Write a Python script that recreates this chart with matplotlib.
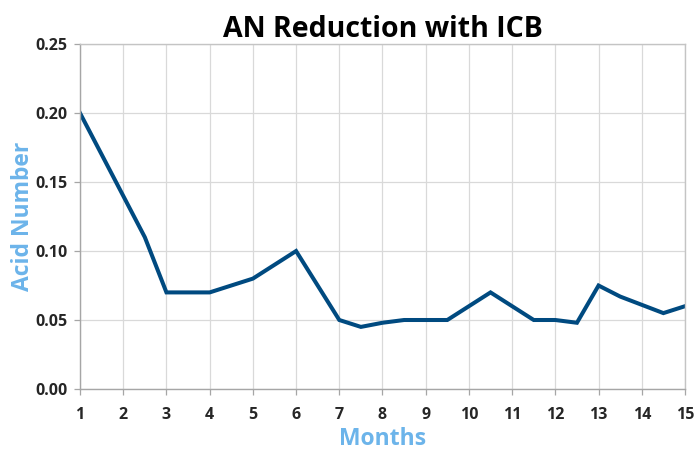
import matplotlib.pyplot as plt

plt.rcParams['font.family'] = ['Open Sans', 'DejaVu Sans']

months = [1, 1.5, 2, 2.5, 3, 3.5, 4, 4.5, 5, 5.5, 6, 6.5, 7, 7.5, 8,
          8.5, 9, 9.5, 10, 10.5, 11, 11.5, 12, 12.5, 13, 13.5, 14, 14.5, 15]
acid_number = [0.20, 0.17, 0.14, 0.11, 0.07, 0.07, 0.07, 0.075, 0.08, 0.09, 0.10,
               0.075, 0.05, 0.045, 0.048, 0.05, 0.05, 0.05, 0.06, 0.07, 0.06,
               0.05, 0.05, 0.048, 0.075, 0.067, 0.061, 0.055, 0.06]
x_ticks = list(range(1, 16))
y_ticks = [0.00, 0.05, 0.10, 0.15, 0.20, 0.25]

fig = plt.figure(figsize=(6.94, 4.5), dpi=100)
ax = fig.add_axes([0.1153, 0.1356, 0.8717, 0.7664])

ax.plot(months, acid_number, color="#004a80", linewidth=2.9, solid_joinstyle="miter")

ax.set_xlim(1, 15)
ax.set_ylim(0, 0.25)
ax.set_xticks(x_ticks)
ax.set_yticks(y_ticks)
ax.set_yticklabels([f"{v:.2f}" for v in y_ticks])
ax.grid(True, color="#d9d9d9", linewidth=0.9)
ax.set_axisbelow(True)

for s in ["top", "right"]:
    ax.spines[s].set_color("#c4c4c4")
    ax.spines[s].set_linewidth(1.0)
for s in ["left", "bottom"]:
    ax.spines[s].set_color("#a6a6a6")
    ax.spines[s].set_linewidth(1.0)

ax.tick_params(axis="both", colors="#a6a6a6", length=4, width=0.9,
               labelcolor="#262626", labelsize=11.5, pad=5)
ax.tick_params(axis="x", pad=9)
for lab in ax.get_xticklabels() + ax.get_yticklabels():
    lab.set_fontweight("bold")

ax.set_title("AN Reduction with ICB", fontsize=20.5, fontweight="bold", color="black", pad=4)
ax.set_xlabel("Months", fontsize=16.5, fontweight="bold", color="#6cb4ea", labelpad=2.5)
ax.set_ylabel("Acid Number", fontsize=16.5, fontweight="bold", color="#6cb4ea", labelpad=0)

fig.savefig("out.png", dpi=100)
